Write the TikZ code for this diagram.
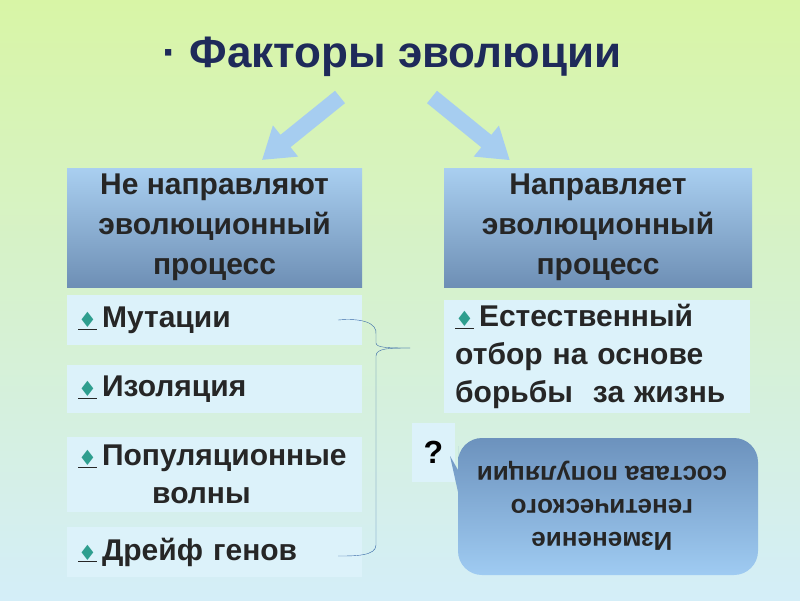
\documentclass[tikz,border=0pt]{standalone}
\usepackage{fontspec}
\setmainfont{Liberation Sans}
\begin{document}
\begin{tikzpicture}[x=1pt,y=-1pt,
  hdr/.style={draw=none,top color=headtop,bottom color=headbot,minimum width=295pt,minimum height=119pt,align=center,font=\bfseries\fontsize{30}{40}\selectfont,text=black!85,inner sep=0pt},
  item/.style={fill=itemfill,minimum width=295pt,align=left,font=\bfseries\fontsize{30}{38}\selectfont,text=black!85,inner sep=0pt,anchor=north west,text width=285pt},
  blk/.style={fill=arrowfill,draw=none}]
\definecolor{bgtop}{HTML}{D8F5A6}
\definecolor{bgbot}{HTML}{D4EEF8}
\definecolor{headtop}{HTML}{A9CFF0}
\definecolor{headbot}{HTML}{6E8FB5}
\definecolor{itemfill}{HTML}{DCF2FA}
\definecolor{arrowfill}{HTML}{A6CDF0}
\definecolor{dia}{HTML}{2E9E8E}
\definecolor{calltop}{HTML}{6C92BD}
\definecolor{callbot}{HTML}{9FCBF2}
\definecolor{brace}{HTML}{3A6AA8}
\newcommand{\dm}{\underline{\textcolor{dia}{\fontspec{DejaVu Sans}\fontsize{21}{24}\selectfont ♦}}\,}
\useasboundingbox (0,0) rectangle (800,600);
\shade[top color=bgtop,bottom color=bgbot] (0,0) rectangle (800,600);
\node (title) at (392,57) {\bfseries\fontsize{44}{50}\selectfont\textcolor[HTML]{1E2A5A}{· Факторы эволюции}};
\fill[blk] (345.0,103.2) -- (290.5,147.2) -- (298.1,156.6) -- (262.2,159.8) -- (272.9,125.4) -- (280.5,134.8) -- (335.0,90.8) -- cycle;
\fill[blk] (427.0,103.2) -- (481.3,147.3) -- (473.7,156.6) -- (509.6,160) -- (498.9,125.6) -- (491.3,134.9) -- (437.0,90.8) -- cycle;
\node[hdr] (h1) at (214.5,227.5) {Не направляют\\эволюционный\\процесс};
\node[hdr,minimum width=308pt] (h2) at (598,227.5) {Направляет\\эволюционный\\процесс};
\node[item,minimum height=50pt] (i1) at (67,295) {\hspace*{6pt}\dm Мутации};
\node[item,minimum height=48pt] (i2) at (67,365) {\hspace*{6pt}\dm Изоляция};
\node[item,minimum height=75pt] (i3) at (67,437) {\hspace*{6pt}\dm Популяционные\\\hspace*{80pt}волны};
\node[item,minimum height=50pt] (i4) at (67,527) {\hspace*{6pt}\dm Дрейф генов};
\node[item,minimum height=113pt,minimum width=306pt,text width=296pt] (r1) at (444,300) {\hspace*{6pt}\dm Естественный\\\hspace*{6pt}отбор на основе\\\hspace*{6pt}борьбы\ \ за жизнь};
\coordinate (b1) at (338,320);
\coordinate (b2) at (338,556);
\coordinate (bm) at (410,348);
\draw[brace,thin] (b1) .. controls (360,318) and (378,322) .. (376,335) -- (376,343) .. controls (376,348) and (390,348) .. (bm);
\draw[brace,thin] (bm) .. controls (390,348) and (376,348) .. (376,356) -- (376,545) .. controls (376,556) and (355,556) .. (b2);
\node[fill=itemfill,minimum width=43pt,minimum height=59pt,inner sep=0pt,font=\bfseries\fontsize{32}{36}\selectfont] (q) at (433.5,452.5) {?};
\shade[top color=calltop,bottom color=callbot,rounded corners=24pt] (458,492) -- (458,575) -- (758,575) -- (758,438) -- (458,438) -- (458,470) [sharp corners] -- (458,470) -- (450,456) -- (458,492);
\node[rotate=180,align=center,font=\bfseries\fontsize{26}{33}\selectfont,text=black!85] (c) at (602,506) {Изменение\\генетического\\состава популяции};
\end{tikzpicture}
\end{document}
